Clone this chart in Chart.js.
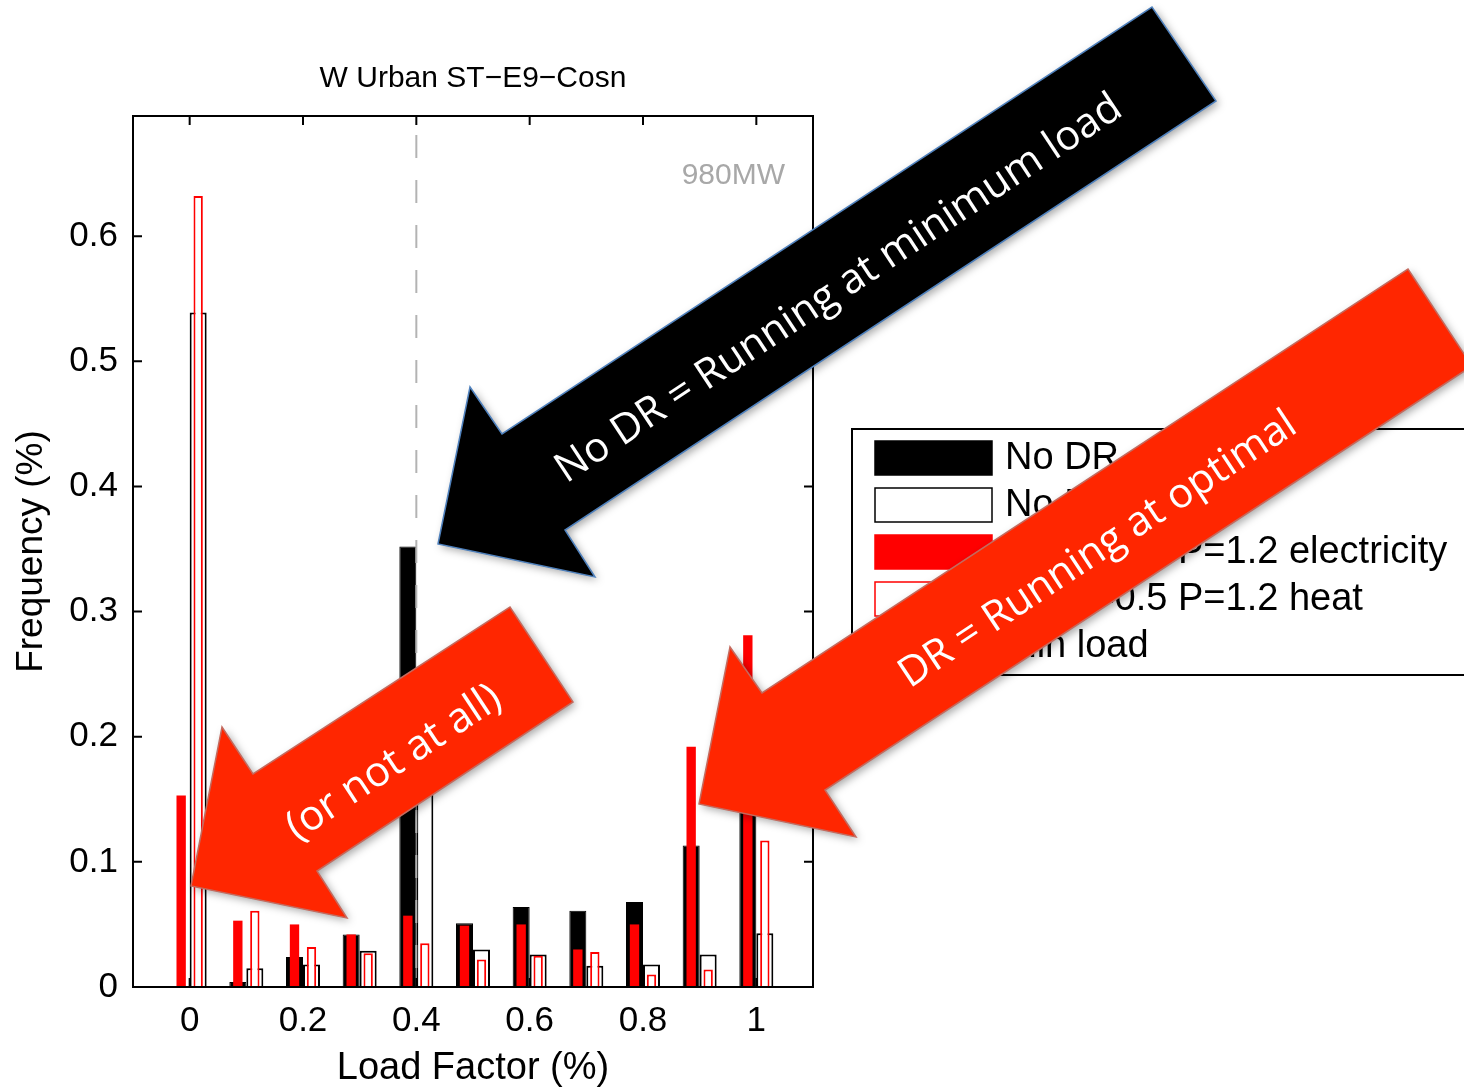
<!DOCTYPE html>
<html>
<head>
<meta charset="utf-8">
<title>W Urban ST-E9-Cosn</title>
<script src="https://cdn.jsdelivr.net/npm/chart.js@4.4.1/dist/chart.umd.min.js"></script>
<style>
  html, body { margin: 0; padding: 0; background: #fff; }
  #wrap { width: 1464px; height: 1089px; }
</style>
</head>
<body>
<div id="wrap"><canvas id="chart" width="1464" height="1089"></canvas></div>
<script>
// load factor bins and axis ticks
const loadFactor = [0, 0.1, 0.2, 0.3, 0.4, 0.5, 0.6, 0.7, 0.8, 0.9, 1.0];
const xTicks = [0, 0.2, 0.4, 0.6, 0.8, 1];
const yTicks = [0, 0.1, 0.2, 0.3, 0.4, 0.5, 0.6];
const yMax = 0.696;

// frequencies
const noDrElec = [0, 0.004, 0.024, 0.042, 0.352, 0.051, 0.064, 0.061, 0.068, 0.113, 0.221];
const noDrHeat = [0.539, 0.015, 0.018, 0.029, 0.239, 0.030, 0.026, 0.017, 0.018, 0.026, 0.043];
const drElec = [0.153, 0.053, 0.050, 0.042, 0.057, 0.049, 0.050, 0.030, 0.050, 0.192, 0.281];
const drHeat = [0.632, 0.061, 0.032, 0.027, 0.035, 0.022, 0.025, 0.028, 0.010, 0.014, 0.117];
const minLoad = 0.4;

const chartTitle = 'W Urban ST\u2212E9\u2212Cosn';
const capacityLabel = '980MW';

const FONT = '"Liberation Sans", Arial, Helvetica, sans-serif';
Chart.defaults.font.family = FONT;
Chart.defaults.color = '#000';

function toPoints(values) {
  return values.map((v, i) => ({ x: loadFactor[i], y: v }));
}
function fmt(v) {
  return String(Math.round(v * 10) / 10);
}

// box, inward ticks, title and the capacity note (MATLAB style)
const framePlugin = {
  id: 'frame',
  afterDatasetsDraw(chart) {
    const { ctx, chartArea: a, scales } = chart;
    const tl = 9;
    ctx.save();
    ctx.strokeStyle = '#000';
    ctx.lineWidth = 2;
    ctx.strokeRect(a.left, a.top, a.right - a.left, a.bottom - a.top);
    ctx.beginPath();
    xTicks.forEach(v => {
      const px = scales.x.getPixelForValue(v);
      ctx.moveTo(px, a.bottom); ctx.lineTo(px, a.bottom - tl);
      ctx.moveTo(px, a.top); ctx.lineTo(px, a.top + tl);
    });
    yTicks.forEach(v => {
      const py = scales.y.getPixelForValue(v);
      ctx.moveTo(a.left, py); ctx.lineTo(a.left + tl, py);
      ctx.moveTo(a.right, py); ctx.lineTo(a.right - tl, py);
    });
    ctx.stroke();

    ctx.fillStyle = '#000';
    ctx.font = '30px ' + FONT;
    ctx.textAlign = 'center';
    ctx.textBaseline = 'middle';
    ctx.fillText(chartTitle, (a.left + a.right) / 2, a.top - 37);

    ctx.fillStyle = '#a8a8a8';
    ctx.font = '30px ' + FONT;
    ctx.textAlign = 'right';
    ctx.fillText(capacityLabel, a.right - 28, a.top + 60);
    ctx.restore();
  }
};

// legend box on the right, then the call-out arrows on top of everything
const arrows = [
  { fill: '#000000', stroke: '#4F81BD', text: 'No DR = Running at minimum load', cx: 839, cy: 289, w: 670,
    pts: [[438, 544], [470, 387], [502, 434], [1152, 7], [1216, 101], [565, 530], [595, 577]] },
  { fill: '#FF2600', stroke: '#C46A5E', text: '(or not at all)', cx: 394, cy: 763, w: 248,
    pts: [[191, 886], [222, 727], [253, 774], [510, 607], [573, 702], [317, 871], [347, 918]] },
  { fill: '#FF2600', stroke: '#C46A5E', text: 'DR = Running at optimal', cx: 1098, cy: 550, w: 467,
    pts: [[699, 804], [730, 647], [762, 693], [1408, 269], [1472, 366], [825, 790], [856, 837]] }
];

const overlayPlugin = {
  id: 'overlay',
  afterDraw(chart) {
    const ctx = chart.ctx;
    ctx.save();
    // legend
    const box = { x: 852, y: 429, w: 640, h: 246 };
    ctx.fillStyle = '#fff';
    ctx.fillRect(box.x, box.y, box.w, box.h);
    ctx.strokeStyle = '#000';
    ctx.lineWidth = 2;
    ctx.strokeRect(box.x, box.y, box.w, box.h);
    ctx.font = '38px ' + FONT;
    ctx.textBaseline = 'middle';
    ctx.textAlign = 'left';
    chart.data.datasets.forEach((ds, i) => {
      const cy = box.y + 29 + i * 47;
      if (ds.type === 'line') {
        ctx.strokeStyle = ds.borderColor;
        ctx.lineWidth = ds.borderWidth;
        ctx.setLineDash([16, 12]);
        ctx.beginPath();
        ctx.moveTo(875, cy); ctx.lineTo(992, cy);
        ctx.stroke();
        ctx.setLineDash([]);
      } else {
        ctx.fillStyle = ds.backgroundColor;
        ctx.fillRect(875, cy - 17, 117, 34);
        ctx.strokeStyle = ds.borderColor;
        ctx.lineWidth = 1.5;
        ctx.strokeRect(875, cy - 17, 117, 34);
      }
      ctx.fillStyle = '#000';
      ctx.fillText(ds.label, 1005, cy + 1);
    });

    // arrows
    arrows.forEach(ar => {
      ctx.save();
      ctx.beginPath();
      ar.pts.forEach((p, i) => (i ? ctx.lineTo(p[0], p[1]) : ctx.moveTo(p[0], p[1])));
      ctx.closePath();
      ctx.shadowColor = 'rgba(0,0,0,0.35)';
      ctx.shadowBlur = 8;
      ctx.shadowOffsetX = 3;
      ctx.shadowOffsetY = 3;
      ctx.fillStyle = ar.fill;
      ctx.fill();
      ctx.shadowColor = 'transparent';
      ctx.strokeStyle = ar.stroke;
      ctx.lineWidth = 1.5;
      ctx.stroke();

      ctx.translate(ar.cx, ar.cy);
      ctx.rotate(-33.5 * Math.PI / 180);
      ctx.font = '40px "Open Sans", sans-serif';
      const size = 40 * ar.w / ctx.measureText(ar.text).width;
      ctx.font = size.toFixed(1) + 'px "Open Sans", sans-serif';
      ctx.fillStyle = '#fff';
      ctx.textAlign = 'center';
      ctx.textBaseline = 'middle';
      ctx.fillText(ar.text, 0, 0);
      ctx.restore();
    });
    ctx.restore();
  }
};

const chart = new Chart(document.getElementById('chart').getContext('2d'), {
  type: 'bar',
  data: {
    datasets: [
      // 'stack' only pairs each red bar with its black bar in the same slot; y is not stacked
      { label: 'No DR electricity', data: toPoints(noDrElec), stack: 'elec',
        backgroundColor: '#000', borderColor: '#000', borderWidth: 1,
        barPercentage: 1, categoryPercentage: 0.6, order: 3 },
      { label: 'No DR heat', data: toPoints(noDrHeat), stack: 'heat',
        backgroundColor: '#fff', borderColor: '#000', borderWidth: 2,
        barPercentage: 1, categoryPercentage: 0.6, order: 3 },
      { label: 'DR \u03b1=0.5 P=1.2 electricity', data: toPoints(drElec), stack: 'elec',
        backgroundColor: '#ff0000', borderColor: '#ff0000', borderWidth: 0,
        barPercentage: 0.55, categoryPercentage: 0.6, order: 2 },
      { label: 'DR \u03b1=0.5 P=1.2 heat', data: toPoints(drHeat), stack: 'heat',
        backgroundColor: '#fff', borderColor: '#ff0000', borderWidth: 2,
        barPercentage: 0.55, categoryPercentage: 0.6, order: 2 },
      { type: 'line', label: 'min load', data: [{ x: minLoad, y: yMax }, { x: minLoad, y: 0 }],
        borderColor: '#b3b3b3', borderWidth: 2, borderDash: [23, 22], borderDashOffset: 26,
        pointRadius: 0, fill: false, order: 1 }
    ]
  },
  options: {
    responsive: false,
    animation: false,
    devicePixelRatio: 1,
    layout: { padding: { left: 0, top: 116, right: 651, bottom: 0 } },
    plugins: {
      legend: { display: false },
      tooltip: { enabled: false },
      title: { display: false }
    },
    scales: {
      x: {
        type: 'linear', min: -0.1, max: 1.1, offset: false,
        afterBuildTicks: s => { s.ticks = xTicks.map(v => ({ value: v })); },
        grid: { display: false, drawTicks: false, offset: false },
        border: { display: false },
        ticks: { font: { size: 35 }, padding: 13, maxRotation: 0, autoSkip: false, callback: fmt },
        title: { display: true, text: 'Load Factor (%)', font: { size: 38, lineHeight: 1.1 }, padding: { top: 0, bottom: 0 } },
        afterFit: s => { s.height = 102; }
      },
      y: {
        type: 'linear', min: 0, max: yMax, stacked: false,
        afterBuildTicks: s => { s.ticks = yTicks.map(v => ({ value: v })); },
        grid: { display: false, drawTicks: false },
        border: { display: false },
        ticks: { font: { size: 35 }, padding: 15, callback: fmt },
        title: { display: true, text: 'Frequency (%)', font: { size: 37 }, padding: { top: 10, bottom: 0 } },
        afterFit: s => { s.width = 133; }
      }
    }
  },
  plugins: [framePlugin, overlayPlugin]
});
</script>
</body>
</html>
